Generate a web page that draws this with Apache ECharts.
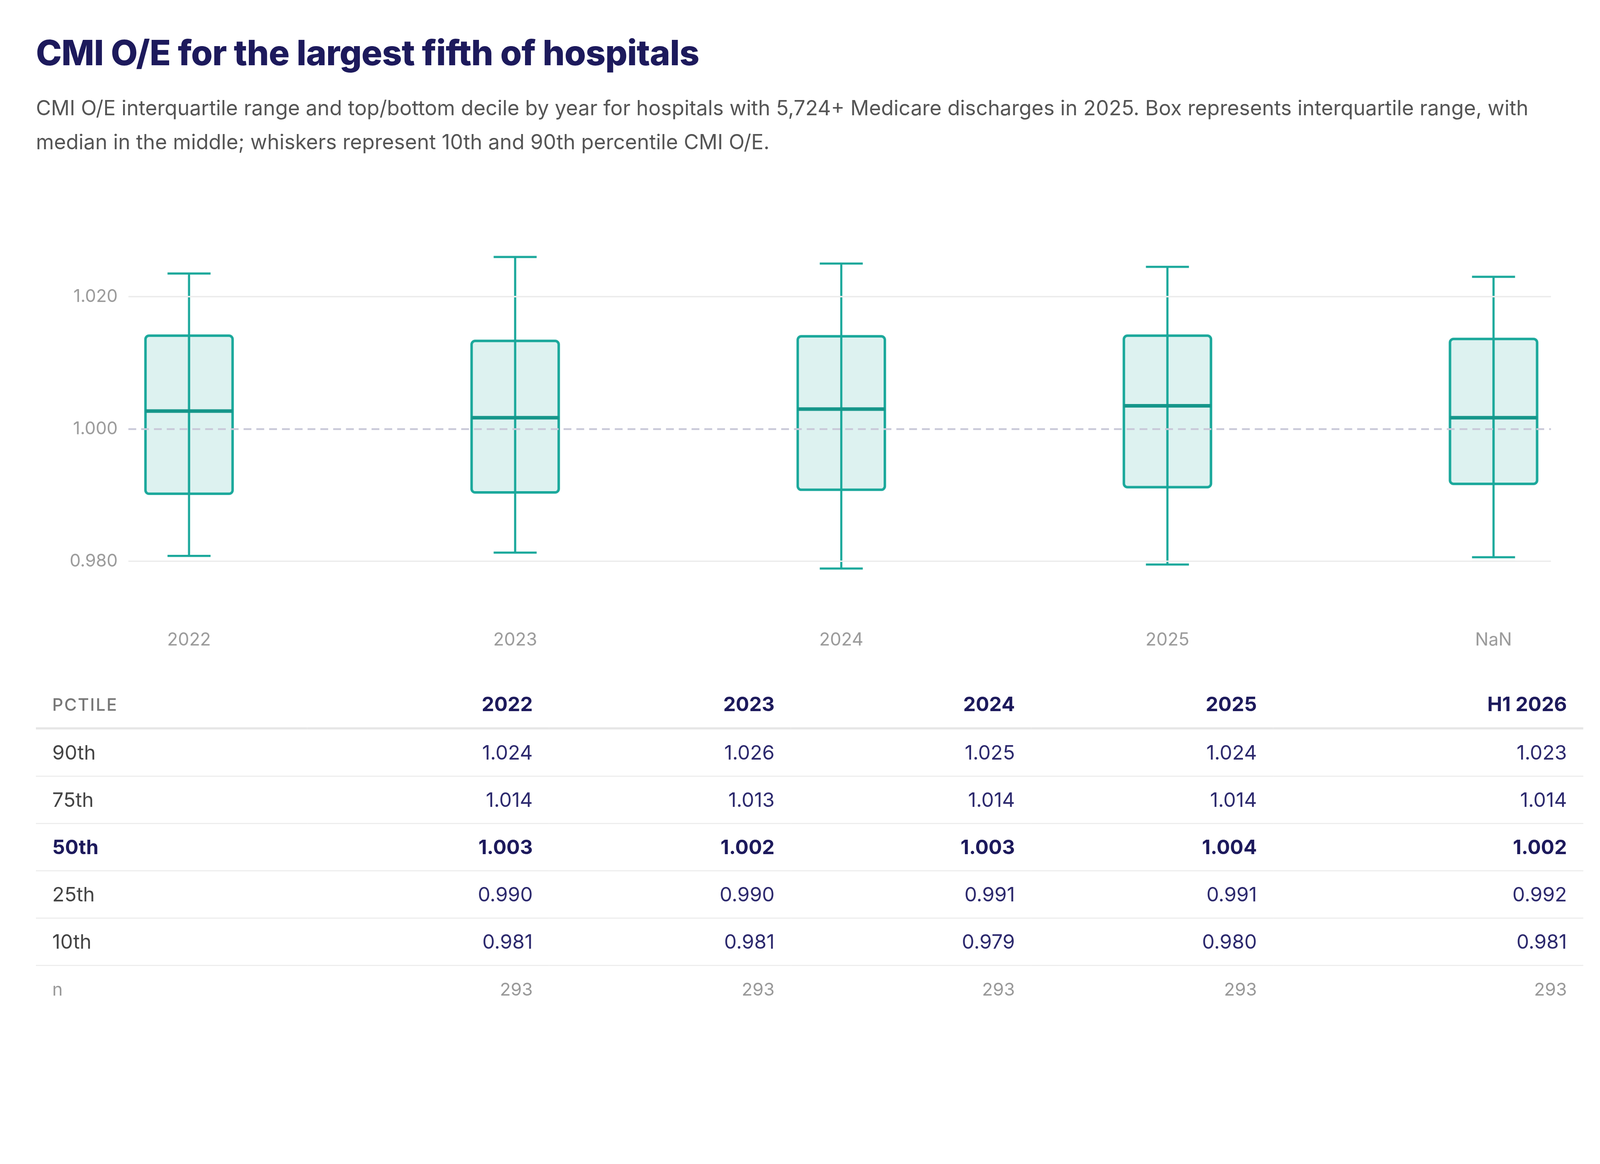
<!DOCTYPE html>
<html>
<head>
<meta charset="utf-8">
<script src="https://cdn.jsdelivr.net/npm/echarts@6/dist/echarts.min.js"></script>
<style>
  html, body { margin: 0; background: #fff; overflow: hidden; font-family: Inter, "Noto Sans", sans-serif; }
  #page { position: absolute; left: 0; top: 0; width: 4500px; height: 2979px; transform-origin: 0 0; }
  #title { position: absolute; left: 101px; top: 88px; font-size: 98px; font-weight: 800; color: #1d1a5c; letter-spacing: -1px; }
  #sub { position: absolute; left: 101px; top: 255px; width: 4400px; font-size: 58px; line-height: 96px; color: #555; }
  #chart { position: absolute; left: 0; top: 0; width: 4500px; height: 1900px; }
  table { position: absolute; left: 101px; top: 1915px; width: 4352px; border-collapse: collapse; font-size: 56px; color: #2d2a6e; }
  td, th { height: 130px; padding: 0 46px; text-align: right; border-bottom: 3px solid #ececec; }
  th { font-weight: 700; color: #1d1a5c; border-bottom: 6px solid #e6e6e6; }
  td:first-child, th:first-child { text-align: left; color: #444; }
  th:first-child { color: #777; font-size: 48px; letter-spacing: 3px; font-weight: 500; }
  tr.bold td { font-weight: 700; color: #1d1a5c; }
  tr.n td { color: #999; font-size: 50px; border-bottom: none; }
</style>
</head>
<body>
<div id="page">
<div id="title">CMI O/E for the largest fifth of hospitals</div>
<div id="sub">CMI O/E interquartile range and top/bottom decile by year for hospitals with 5,724+ Medicare discharges in 2025. Box represents interquartile range, with median in the middle; whiskers represent 10th and 90th percentile CMI O/E.</div>
<div id="chart"></div>
<table id="tbl"></table>
</div>
<script>
var years = ['2022', '2023', '2024', '2025', 'H1 2026'];
var p90 = [1.024, 1.026, 1.025, 1.024, 1.023];
var p75 = [1.014, 1.013, 1.014, 1.014, 1.014];
var p50 = [1.003, 1.002, 1.003, 1.004, 1.002];
var p25 = [0.990, 0.990, 0.991, 0.991, 0.992];
var p10 = [0.981, 0.981, 0.979, 0.980, 0.981];
var counts = [293, 293, 293, 293, 293];
var yTicks = [0.98, 1.00, 1.02];

// whiskers/boxes use the drawn positions, table uses the rounded values
var plot90 = [1.0235, 1.026, 1.025, 1.0245, 1.023];
var plot75 = [1.0141, 1.0133, 1.014, 1.0141, 1.0136];
var plot50 = [1.0027, 1.0017, 1.0030, 1.0035, 1.0017];
var plot25 = [0.9902, 0.9904, 0.9908, 0.9912, 0.9917];
var plot10 = [0.9808, 0.9813, 0.9789, 0.9795, 0.9806];

// fit the 4500px layout to whatever the viewport is in css px
var scale = window.innerWidth / 4500;
document.getElementById('page').style.transform = 'scale(' + scale + ')';

var teal = '#1aa89b';
var chart = echarts.init(document.getElementById('chart'));

var boxData = years.map(function (y, i) {
  return [i, plot10[i], plot25[i], plot50[i], plot75[i], plot90[i], y];
});

chart.setOption({
  animation: false,
  grid: { left: 361, right: 138, top: 648, height: 1116 },
  xAxis: { type: 'value', min: -0.186, max: 4.176, show: false },
  yAxis: {
    type: 'value', min: 0.97, max: 1.03, interval: 0.01,
    axisLine: { show: false }, axisTick: { show: false }, splitLine: { show: false },
    axisLabel: {
      fontSize: 49, color: '#999', margin: 30, fontFamily: 'Inter',
      formatter: function (v) {
        var k = Math.round(v * 1000);
        return (k === 980 || k === 1000 || k === 1020) ? v.toFixed(3) : '';
      }
    }
  },
  series: [{
    type: 'custom',
    data: boxData,
    encode: { x: 0, y: [1, 2, 3, 4, 5] },
    markLine: {
      silent: true, symbol: 'none', label: { show: false },
      data: yTicks.map(function (t) {
        return { yAxis: t, lineStyle: t === 1.00
          ? { color: '#c8c8d8', type: [22, 14], width: 5 }
          : { color: '#ececec', type: 'solid', width: 4 } };
      })
    },
    renderItem: function (params, api) {
      var x = api.value(0);
      var c = function (v) { return api.coord([x, v]); };
      var lo = c(api.value(1)), q1 = c(api.value(2)), med = c(api.value(3)),
          q3 = c(api.value(4)), hi = c(api.value(5));
      var cx = lo[0], bw = 245, cw = 121;
      var base = c(0.97);
      var ls = { stroke: teal, lineWidth: 6 };
      return { type: 'group', children: [
        { type: 'line', shape: { x1: cx, y1: hi[1], x2: cx, y2: lo[1] }, style: ls },
        { type: 'line', shape: { x1: cx - cw / 2, y1: hi[1], x2: cx + cw / 2, y2: hi[1] }, style: ls },
        { type: 'line', shape: { x1: cx - cw / 2, y1: lo[1], x2: cx + cw / 2, y2: lo[1] }, style: ls },
        { type: 'rect', shape: { x: cx - bw / 2, y: q3[1], width: bw, height: q1[1] - q3[1], r: 10 },
          style: { fill: 'rgba(26,168,155,0.15)', stroke: teal, lineWidth: 7 } },
        { type: 'line', shape: { x1: cx, y1: q3[1], x2: cx, y2: q1[1] }, style: ls },
        { type: 'line', shape: { x1: cx - bw / 2, y1: med[1], x2: cx + bw / 2, y2: med[1] },
          style: { stroke: '#15968a', lineWidth: 10 } },
        { type: 'text', x: cx, y: base[1] + 36,
          style: { text: api.value(6), fill: '#999', fontSize: 50, fontFamily: 'Inter',
                   align: 'center', verticalAlign: 'middle' } }
      ] };
    }
  }]
});

// table
var rows = [['90th', p90, ''], ['75th', p75, ''], ['50th', p50, 'bold'], ['25th', p25, ''], ['10th', p10, '']];
var html = '<tr><th>PCTILE</th>' + years.map(function (y) { return '<th>' + y + '</th>'; }).join('') + '</tr>';
rows.forEach(function (r) {
  html += '<tr class="' + r[2] + '"><td>' + r[0] + '</td>' +
    r[1].map(function (v) { return '<td>' + v.toFixed(3) + '</td>'; }).join('') + '</tr>';
});
html += '<tr class="n"><td>n</td>' + counts.map(function (v) { return '<td>' + v + '</td>'; }).join('') + '</tr>';
document.getElementById('tbl').innerHTML = html;
</script>
</body>
</html>
